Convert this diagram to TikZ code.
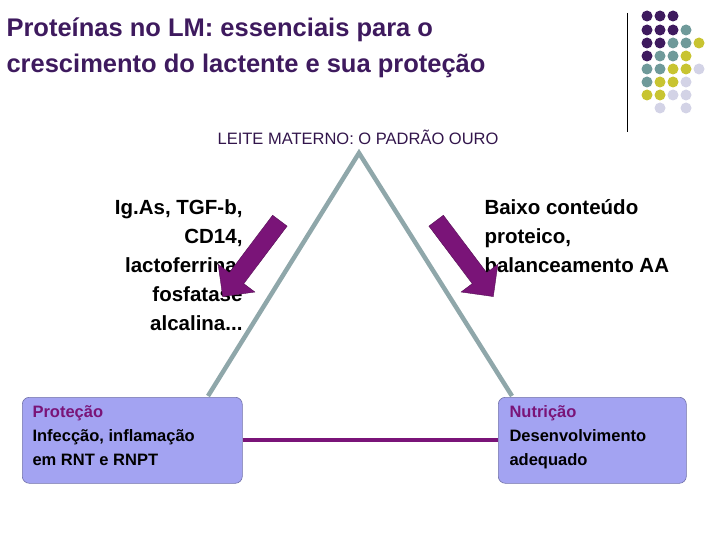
\documentclass[tikz,border=0pt]{standalone}
\usepackage{fontspec}
\setmainfont{Liberation Sans}
\usetikzlibrary{arrows.meta,shapes.arrows}
\definecolor{P}{HTML}{3E1A5E}
\definecolor{T}{HTML}{6F9A9A}
\definecolor{Y}{HTML}{C8C431}
\definecolor{L}{HTML}{D3D3E6}
\definecolor{N}{HTML}{FFFFFF}
\definecolor{tpur}{HTML}{3E1A5E}
\definecolor{mag}{HTML}{7A1478}
\definecolor{boxf}{HTML}{A3A3F2}
\definecolor{sideline}{HTML}{8FA7AA}
\tikzset{
 dot/.style={circle,inner sep=0pt,minimum size=11pt},
 box/.style={draw=boxf!70!black,line width=0.6pt,rounded corners=7pt,fill=boxf,minimum width=220pt,minimum height=86pt},
 btxt/.style={font=\bfseries\fontsize{16.5}{24}\selectfont,align=left,anchor=north west},
 side/.style={line width=4.5pt,draw=sideline},
 bigarrow/.style={single arrow,fill=mag,draw=mag!70!black,minimum height=95pt,minimum width=46pt,single arrow head extend=8pt,inner sep=5pt},
}
\begin{document}
\begin{tikzpicture}[x=1pt,y=-1pt]
\useasboundingbox (0,0) rectangle (720,540);
\node[anchor=north west,text=tpur,align=left,font=\bfseries\fontsize{25.5}{36}\selectfont] (title) at (3,14) {Proteínas no LM: essenciais para o\\crescimento do lactente e sua proteção};
\coordinate (vt) at (627,13); \coordinate (vb) at (627,132);
\draw[line width=0.8pt] (vt) -- (vb);
\foreach \r/\list in {16/{P,P,P},30/{P,P,P,T},43/{P,P,T,T,Y},56/{P,T,T,Y},69/{T,T,Y,Y,L},82/{T,Y,Y,L},95/{Y,Y,L,L},108/{N,L,N,L}}{
  \foreach \c [count=\i from 0] in \list {
    \node[dot,fill=\c] at ({647+13*\i},\r) {};
  }
}
\node[text=tpur!80!black,font=\fontsize{16.5}{20}\selectfont] (lm) at (358,137) {LEITE MATERNO: O PADRÃO OURO};
\coordinate (apex) at (359,153);
\coordinate (bl) at (208,396);
\coordinate (br) at (512,396);
\draw[side,line join=miter] (bl) -- (apex) -- (br);
\node[box,anchor=north west] (pbox) at (22,397) {};
\node[box,anchor=north west,minimum width=188pt] (nbox) at (498,397) {};
\draw[line width=4.5pt,draw=mag] (pbox.east |- 0,440) -- (nbox.west |- 0,440);
\node[btxt] (pt) at (29,402) {\textcolor{mag}{Proteção}\\Infecção, inflamação\\em RNT e RNPT};
\node[btxt] (nt) at (506,402) {\textcolor{mag}{Nutrição}\\Desenvolvimento\\adequado};
\node[anchor=north east,align=right,font=\bfseries\fontsize{20.5}{29}\selectfont] (lt) at (246,196) {Ig.As, TGF-b,\\CD14,\\lactoferrina,\\fosfatase\\alcalina...};
\node[anchor=north west,align=left,font=\bfseries\fontsize{20.5}{29}\selectfont] (rt) at (481,196) {Baixo conteúdo\\proteico,\\balanceamento AA};
\node[bigarrow,rotate=-127] (la) at (254,255) {};
\node[bigarrow,rotate=-53] (ra) at (462,255) {};
\end{tikzpicture}
\end{document}
